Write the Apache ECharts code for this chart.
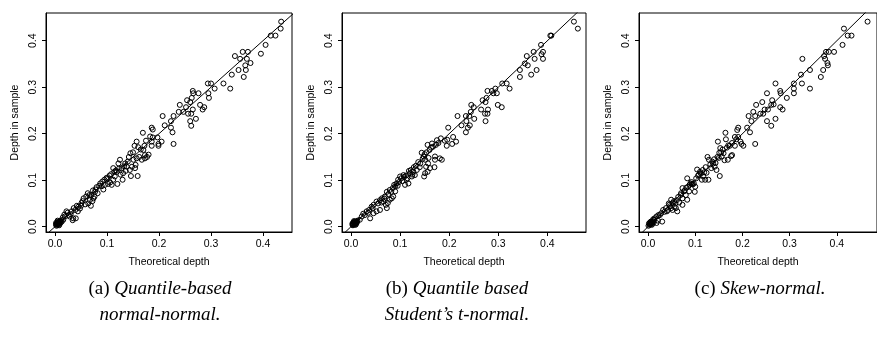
<!DOCTYPE html>
<html>
<head>
<meta charset="utf-8">
<script src="https://cdn.jsdelivr.net/npm/echarts@6/dist/echarts.min.js"></script>
<style>
html,body{margin:0;padding:0;background:#fff;}
#main{width:877px;height:338px;}
</style>
</head>
<body>
<div id="main"></div>
<script>
// tick values shared by every panel
var tickValues = [0, 0.1, 0.2, 0.3, 0.4];
// y = x reference line ends (clipped by the grid)
var refLine = [-0.1, 0.6];

// (a) quantile-based normal-normal : [theoretical depth, depth in sample]
var depthA = [
 [0.002,0.004],[0.003,0.006],[0.004,0.005],[0.005,0.008],[0.006,0.004],[0.004,0.009],[0.007,0.007],[0.008,0.010],
 [0.003,0.002],[0.009,0.006],[0.010,0.012],[0.006,0.011],[0.011,0.009],[0.002,0.008],[0.012,0.014],[0.008,0.003],
 [0.013,0.011],[0.005,0.013],
 [0.016,0.015],[0.019,0.022],[0.022,0.033],[0.026,0.025],[0.015,0.020],[0.018,0.026],[0.024,0.030],[0.028,0.022],
 [0.032,0.033],[0.030,0.027],[0.035,0.018],[0.034,0.014],[0.040,0.018],[0.039,0.036],[0.036,0.040],[0.042,0.045],
 [0.045,0.043],[0.044,0.033],[0.048,0.039],[0.051,0.051],[0.050,0.045],[0.055,0.061],[0.053,0.055],[0.058,0.048],
 [0.060,0.065],[0.063,0.072],[0.064,0.050],[0.067,0.057],[0.066,0.068],[0.070,0.068],[0.069,0.045],[0.072,0.055],
 [0.074,0.061],[0.073,0.078],[0.077,0.075],[0.078,0.080],[0.076,0.065],[0.080,0.085],[0.082,0.072],[0.085,0.088],
 [0.087,0.093],[0.090,0.087],[0.091,0.097],[0.093,0.080],[0.096,0.090],[0.095,0.101],[0.099,0.105],[0.101,0.104],
 [0.102,0.092],[0.106,0.095],[0.105,0.110],[0.109,0.090],[0.108,0.113],[0.112,0.101],[0.112,0.126],[0.115,0.108],
 [0.114,0.118],[0.117,0.121],[0.119,0.118],[0.120,0.092],[0.122,0.136],[0.123,0.125],[0.125,0.144],[0.126,0.112],
 [0.128,0.126],[0.130,0.101],[0.131,0.115],[0.133,0.130],[0.135,0.136],[0.136,0.120],[0.138,0.129],[0.140,0.140],
 [0.142,0.150],[0.144,0.122],[0.145,0.158],[0.146,0.109],[0.148,0.129],[0.150,0.160],[0.151,0.144],[0.153,0.174],
 [0.154,0.126],[0.155,0.133],[0.157,0.183],[0.157,0.147],[0.159,0.109],[0.160,0.171],[0.162,0.150],[0.165,0.166],
 [0.167,0.144],[0.169,0.202],[0.170,0.165],[0.172,0.174],[0.173,0.154],[0.173,0.147],[0.175,0.185],[0.177,0.150],
 [0.180,0.155],[0.183,0.194],
 [0.186,0.213],[0.188,0.209],[0.197,0.192],[0.188,0.192],[0.186,0.183],[0.205,0.183],[0.199,0.178],[0.199,0.174],
 [0.186,0.174],[0.207,0.238],[0.211,0.218],[0.223,0.213],[0.226,0.203],[0.228,0.178],[0.223,0.227],[0.228,0.238],
 [0.238,0.247],[0.247,0.247],[0.240,0.262],[0.252,0.257],[0.254,0.272],[0.260,0.268],[0.263,0.277],[0.265,0.292],
 [0.266,0.287],[0.276,0.287],[0.265,0.252],[0.256,0.243],[0.262,0.243],[0.271,0.232],[0.260,0.227],[0.262,0.217],
 [0.279,0.262],[0.287,0.257],[0.284,0.252],[0.294,0.308],[0.300,0.308],[0.295,0.287],[0.296,0.277],[0.307,0.297],
 [0.324,0.308],[0.337,0.297],[0.340,0.327],[0.353,0.337],[0.346,0.367],[0.356,0.361],[0.361,0.376],[0.371,0.376],
 [0.369,0.361],[0.366,0.347],[0.367,0.337],[0.376,0.352],[0.363,0.322],[0.396,0.372],[0.405,0.391],[0.415,0.411],
 [0.424,0.411],[0.435,0.441],[0.434,0.426]
];

// (b) quantile based Student's t-normal
var depthB = [
 [0.003,0.004],[0.004,0.006],[0.005,0.005],[0.006,0.008],[0.007,0.006],[0.005,0.009],[0.008,0.007],[0.009,0.010],
 [0.004,0.003],[0.010,0.008],[0.011,0.011],[0.007,0.011],[0.012,0.009],[0.003,0.007],[0.013,0.013],[0.009,0.004],
 [0.006,0.012],[0.010,0.005],
 [0.012,0.011],[0.018,0.015],[0.022,0.022],[0.028,0.025],[0.032,0.033],[0.037,0.036],[0.039,0.018],[0.042,0.043],
 [0.046,0.047],[0.046,0.029],[0.052,0.054],[0.052,0.033],[0.059,0.057],[0.059,0.036],[0.063,0.061],[0.066,0.054],
 [0.069,0.065],[0.071,0.047],[0.073,0.075],[0.073,0.040],[0.075,0.051],[0.079,0.079],[0.079,0.058],[0.083,0.061],
 [0.086,0.065],[0.090,0.087],[0.090,0.076],[0.093,0.093],[0.096,0.101],[0.100,0.108],[0.107,0.111],[0.110,0.090],
 [0.113,0.101],[0.117,0.093],[0.120,0.115],[0.124,0.108],[0.127,0.118],[0.130,0.111],[0.134,0.122],[0.141,0.136],
 [0.144,0.159],[0.148,0.151],[0.149,0.108],[0.151,0.144],[0.151,0.115],[0.153,0.129],[0.156,0.176],[0.156,0.118],
 [0.157,0.136],[0.161,0.126],[0.165,0.179],[0.171,0.151],[0.171,0.144],[0.175,0.186],[0.181,0.147],[0.185,0.144],
 [0.025,0.028],[0.035,0.030],[0.044,0.040],[0.055,0.050],[0.062,0.052],[0.068,0.060],[0.076,0.070],[0.082,0.075],
 [0.085,0.083],[0.088,0.090],[0.095,0.088],[0.098,0.096],[0.102,0.104],[0.105,0.098],[0.108,0.107],[0.112,0.110],
 [0.115,0.104],[0.118,0.120],[0.122,0.122],[0.125,0.112],[0.128,0.128],[0.132,0.131],[0.137,0.139],[0.140,0.128],
 [0.146,0.146],[0.150,0.156],[0.154,0.160],[0.158,0.148],[0.160,0.165],[0.163,0.170],[0.167,0.172],[0.170,0.128],
 [0.173,0.176],[0.178,0.180],[0.183,0.190],
 [0.191,0.185],[0.195,0.174],[0.196,0.187],[0.198,0.213],[0.206,0.178],[0.208,0.193],[0.214,0.183],[0.217,0.238],
 [0.225,0.218],[0.234,0.203],[0.238,0.213],[0.242,0.218],[0.234,0.238],[0.241,0.238],[0.235,0.227],[0.244,0.247],
 [0.245,0.262],[0.250,0.257],[0.251,0.232],[0.265,0.252],[0.268,0.272],[0.274,0.268],[0.276,0.277],[0.278,0.292],
 [0.287,0.292],[0.294,0.297],[0.290,0.287],[0.297,0.287],[0.279,0.252],[0.278,0.243],[0.273,0.243],[0.274,0.227],
 [0.299,0.262],[0.307,0.257],[0.308,0.308],[0.317,0.308],[0.323,0.297],[0.344,0.322],[0.344,0.337],[0.354,0.351],
 [0.358,0.367],[0.360,0.347],[0.367,0.327],[0.372,0.376],[0.374,0.361],[0.378,0.337],[0.387,0.391],[0.388,0.371],
 [0.391,0.376],[0.391,0.361],[0.406,0.411],[0.408,0.411],[0.454,0.441],[0.462,0.426]
];

// (c) skew-normal
var depthC = [
 [0.001,0.002],[0.003,0.004],[0.004,0.006],[0.005,0.005],[0.006,0.008],[0.007,0.007],[0.008,0.010],[0.004,0.009],
 [0.009,0.006],[0.010,0.012],[0.011,0.011],[0.006,0.011],[0.012,0.009],[0.002,0.007],[0.013,0.015],[0.008,0.004],
 [0.014,0.018],[0.011,0.016],
 [0.018,0.022],[0.018,0.008],[0.021,0.013],[0.025,0.025],[0.028,0.029],[0.030,0.011],[0.032,0.036],[0.042,0.036],
 [0.045,0.047],[0.049,0.058],[0.049,0.040],[0.052,0.051],[0.052,0.036],[0.056,0.043],[0.059,0.040],[0.062,0.033],
 [0.069,0.068],[0.073,0.083],[0.073,0.061],[0.073,0.047],[0.076,0.076],[0.080,0.068],[0.083,0.104],[0.083,0.058],
 [0.087,0.076],[0.090,0.093],[0.093,0.092],[0.097,0.093],[0.099,0.075],[0.100,0.086],[0.104,0.123],[0.110,0.118],
 [0.114,0.101],[0.117,0.108],[0.121,0.101],[0.124,0.116],[0.126,0.150],[0.128,0.101],[0.129,0.144],[0.134,0.126],
 [0.138,0.136],[0.141,0.129],[0.145,0.122],[0.148,0.183],[0.151,0.159],[0.152,0.109],[0.153,0.169],[0.156,0.151],
 [0.158,0.166],[0.162,0.143],[0.164,0.202],[0.165,0.188],[0.169,0.144],[0.176,0.152],
 [0.022,0.025],[0.035,0.032],[0.038,0.040],[0.040,0.033],[0.044,0.050],[0.047,0.044],[0.055,0.055],[0.058,0.050],
 [0.061,0.057],[0.064,0.064],[0.066,0.052],[0.070,0.072],[0.078,0.078],[0.081,0.084],[0.085,0.086],[0.088,0.090],
 [0.092,0.096],[0.095,0.091],[0.102,0.104],[0.106,0.110],[0.108,0.112],[0.112,0.114],[0.116,0.122],[0.119,0.117],
 [0.122,0.128],[0.132,0.134],[0.136,0.140],[0.140,0.145],[0.143,0.137],[0.147,0.150],[0.150,0.148],[0.155,0.160],
 [0.160,0.158],[0.167,0.170],[0.170,0.175],[0.173,0.174],[0.178,0.180],
 [0.178,0.154],[0.184,0.193],[0.191,0.193],[0.187,0.188],[0.196,0.183],[0.184,0.174],[0.202,0.174],[0.198,0.178],
 [0.227,0.178],[0.191,0.213],[0.189,0.208],[0.210,0.213],[0.216,0.203],[0.219,0.227],[0.213,0.238],[0.227,0.238],
 [0.238,0.243],[0.244,0.243],[0.223,0.247],[0.252,0.227],[0.261,0.217],[0.270,0.232],[0.247,0.252],[0.254,0.252],
 [0.261,0.262],[0.229,0.262],[0.242,0.268],[0.263,0.272],[0.266,0.263],[0.280,0.292],[0.281,0.287],[0.252,0.287],
 [0.270,0.308],[0.280,0.257],[0.285,0.252],[0.294,0.277],[0.309,0.297],[0.309,0.287],[0.309,0.308],[0.326,0.308],
 [0.324,0.327],[0.327,0.361],[0.343,0.337],[0.343,0.297],[0.366,0.322],[0.371,0.337],[0.373,0.367],[0.375,0.361],
 [0.377,0.376],[0.383,0.376],[0.394,0.376],[0.380,0.352],[0.381,0.347],[0.412,0.391],[0.423,0.411],[0.431,0.411],
 [0.415,0.426],[0.465,0.441]
];

var captions = [
 '{n|(a) }{i|Quantile-based}\n{i|normal-normal.}',
 '{n|(b) }{i|Quantile based}\n{i|Student\u2019s t-normal.}',
 '{n|(c) }{i|Skew-normal.}'
];
var xTitle = 'Theoretical depth';
var yTitle = 'Depth in sample';

function CreatChart(id){
	var myChart = echarts.init(document.getElementById(id), null, {renderer:'canvas'});
	var panels = [
		{data:depthA, left:46,  width:246, xmin:-0.0173, xmax:0.4558, cx:160},
		{data:depthB, left:342, width:244, xmin:-0.0183, xmax:0.4786, cx:457},
		{data:depthC, left:639, width:245, xmin:-0.0191, xmax:0.4850, cx:760}
	];
	var axisFont = 'Liberation Sans';
	var grid=[], xAxis=[], yAxis=[], series=[], graphic=[];
	for(var i=0;i<panels.length;i++){
		var p = panels[i];
		grid.push({left:p.left, top:13, width:p.width, height:219, show:true,
			borderColor:'#000', borderWidth:1, backgroundColor:'transparent'});
		xAxis.push({
			type:'value', gridIndex:i, min:p.xmin, max:p.xmax,
			name:xTitle, nameLocation:'middle', nameGap:25,
			nameTextStyle:{fontFamily:axisFont, fontSize:10.5, color:'#000'},
			axisLine:{show:true, onZero:false, lineStyle:{color:'#000', width:1}},
			axisTick:{show:true, length:4, customValues:tickValues, lineStyle:{color:'#000'}},
			axisLabel:{customValues:tickValues, margin:7, fontFamily:axisFont, fontSize:10.5, color:'#000',
				formatter:function(v){return v.toFixed(1);}},
			splitLine:{show:false}
		});
		yAxis.push({
			type:'value', gridIndex:i, min:-0.0114, max:0.4596,
			name:yTitle, nameLocation:'middle', nameGap:25, nameRotate:90,
			nameTextStyle:{fontFamily:axisFont, fontSize:10.5, color:'#000'},
			axisLine:{show:true, onZero:false, lineStyle:{color:'#000', width:1}},
			axisTick:{show:true, length:4, customValues:tickValues, lineStyle:{color:'#000'}},
			axisLabel:{customValues:tickValues, rotate:90, margin:7, fontFamily:axisFont, fontSize:10.5, color:'#000',
				formatter:function(v){return v.toFixed(1);}},
			splitLine:{show:false}
		});
		series.push({
			type:'line', xAxisIndex:i, yAxisIndex:i, silent:true, clip:true,
			symbol:'none', data:[[refLine[0],refLine[0]],[refLine[1],refLine[1]]],
			lineStyle:{color:'#000', width:1}
		});
		series.push({
			type:'scatter', xAxisIndex:i, yAxisIndex:i, silent:true,
			symbol:'circle', symbolSize:5, data:p.data,
			itemStyle:{color:'rgba(0,0,0,0)', borderColor:'#000', borderWidth:1, opacity:1}
		});
		graphic.push({
			type:'text', x:p.cx, y:276,
			style:{
				text:captions[i], align:'center', verticalAlign:'top',
				fill:'#000', lineHeight:26,
				rich:{
					n:{fontFamily:'Liberation Serif', fontSize:19, fontStyle:'normal', fill:'#000', lineHeight:26},
					i:{fontFamily:'Liberation Serif', fontSize:19, fontStyle:'italic', fill:'#000', lineHeight:26}
				}
			}
		});
	}
	var option = {
		animation:false,
		backgroundColor:'#fff',
		grid:grid,
		xAxis:xAxis,
		yAxis:yAxis,
		series:series,
		graphic:graphic
	};
	myChart.setOption(option);
}
CreatChart('main');
</script>
</body>
</html>
